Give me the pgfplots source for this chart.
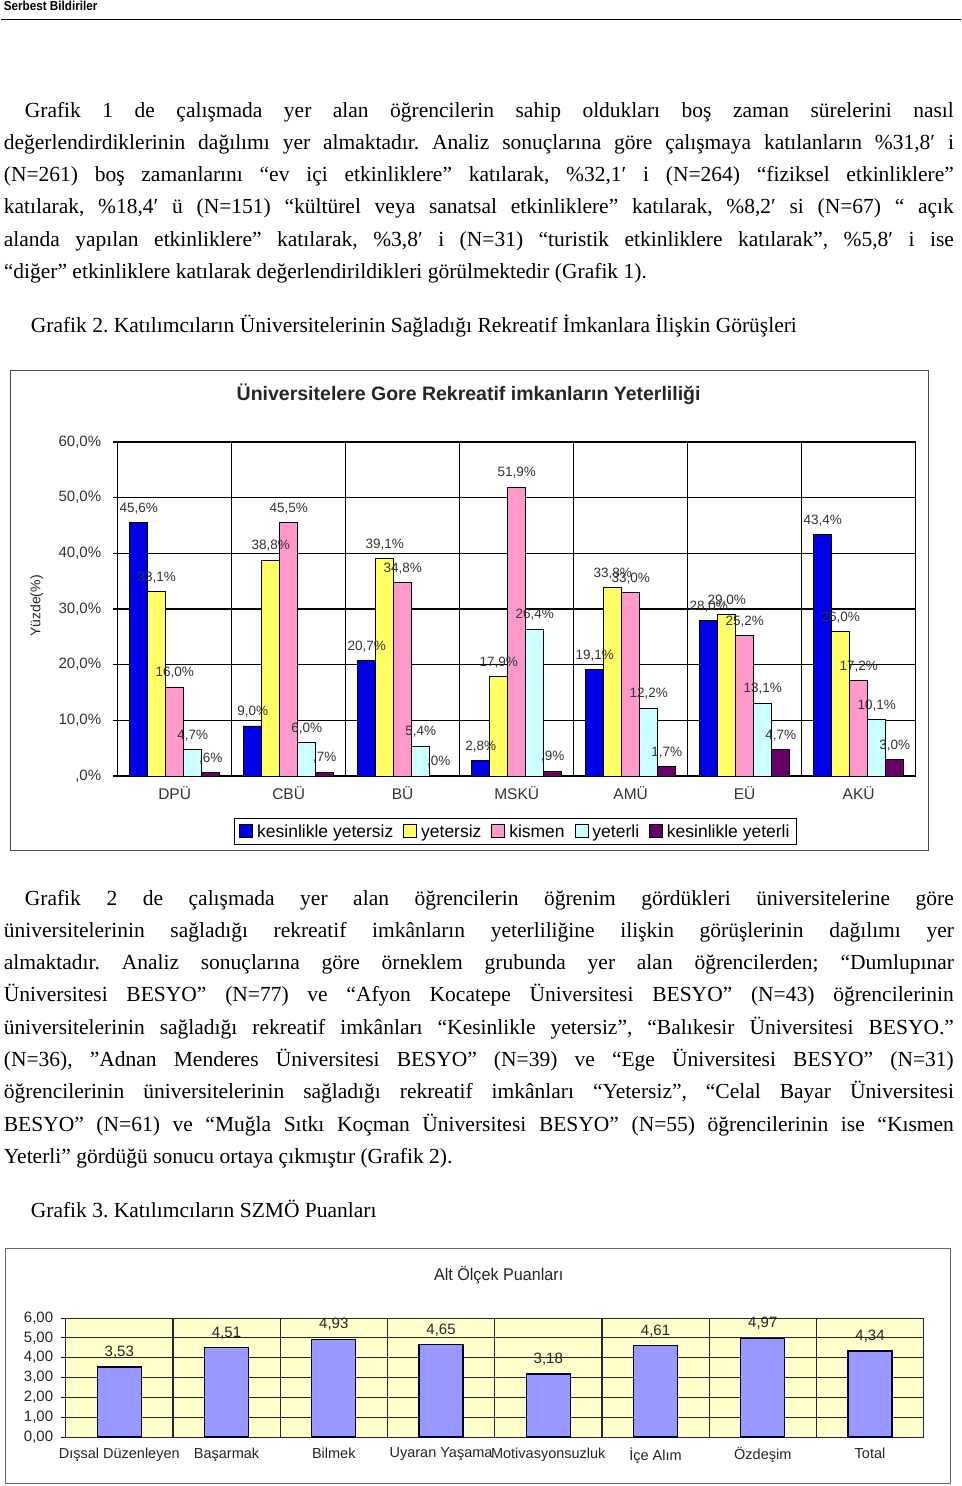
\documentclass[border=0pt]{standalone}
\usepackage{fontspec}
\setmainfont{Liberation Serif}
\newfontfamily\arial{Liberation Sans}
\usepackage{pgfplots}
\pgfplotsset{compat=1.18}
\definecolor{cA}{HTML}{0000E6}
\definecolor{cB}{HTML}{FFFF66}
\definecolor{cC}{HTML}{FF99CC}
\definecolor{cD}{HTML}{CCFFFF}
\definecolor{cE}{HTML}{660066}
\definecolor{bgY}{HTML}{FFFFCC}
\definecolor{barP}{HTML}{9999FF}
\newcommand{\body}{\fontsize{21.5}{32.3}\selectfont\frenchspacing}
\begin{document}
\begin{tikzpicture}[x=1pt,y=1pt]
\fill[white] (0,0) rectangle (960,-1486);
% header
\node[anchor=base west, inner sep=0, xscale=0.9, font=\arial\bfseries\fontsize{13}{13}\selectfont] at (3,-10.5) {Serbest Bildiriler};
\draw[line width=1.3pt] (0,-19.5) -- (960,-19.5);
% paragraph 1
\node[anchor=base west, inner sep=0] at (3,-117) {\parbox[t]{950pt}{\body\hspace*{21pt}Grafik 1 de çalışmada yer alan öğrencilerin sahip oldukları boş zaman sürelerini nasıl\linebreak
değerlendirdiklerinin dağılımı yer almaktadır. Analiz sonuçlarına göre çalışmaya katılanların \%31,8′ i\linebreak
(N=261) boş zamanlarını “ev içi etkinliklere” katılarak, \%32,1′ i (N=264) “fiziksel etkinliklere”\linebreak
katılarak, \%18,4′ ü (N=151) “kültürel veya sanatsal etkinliklere” katılarak, \%8,2′ si (N=67) “ açık\linebreak
alanda yapılan etkinliklere” katılarak, \%3,8′ i (N=31) “turistik etkinliklere katılarak”, \%5,8′ i ise\linebreak
“diğer” etkinliklere katılarak değerlendirildikleri görülmektedir (Grafik 1).}};
\node[anchor=base west, inner sep=0, font=\body] at (30,-332) {Grafik 2. Katılımcıların Üniversitelerinin Sağladığı Rekreatif İmkanlara İlişkin Görüşleri};
% chart 1 frame
\draw[black!70, line width=0.8pt] (10,-370) rectangle (928,-850);
\node[font=\arial\bfseries\fontsize{19.5}{19.5}\selectfont, text=black!85] at (468,-394) {Üniversitelere Gore Rekreatif imkanların Yeterliliği};
\node[rotate=90, font=\arial\fontsize{14}{14}\selectfont, text=black!85] at (36,-606) {Yüzde(\%)};
\begin{axis}[
  at={(117pt,-776pt)}, anchor=south west,
  scale only axis, width=798pt, height=334pt,
  xmin=-0.5, xmax=6.5, ymin=0, ymax=60,
  ybar=0pt, bar width=18pt,
  tick pos=left,
  axis line style={black, line width=1.2pt},
  xtick={0,...,6}, xticklabels={DPÜ,CBÜ,BÜ,MSKÜ,AMÜ,EÜ,AKÜ},
  x tick style={draw=none},
  extra x ticks={-0.5,0.5,1.5,2.5,3.5,4.5,5.5,6.5},
  extra x tick labels={},
  extra x tick style={grid=major, tick pos=left, tick align=outside, major tick length=7pt,
     tick style={draw=black, line width=1.2pt}, major grid style={black, line width=1.2pt}},
  ytick={0,10,...,60},
  yticklabels={{,0\%},{10,0\%},{20,0\%},{30,0\%},{40,0\%},{50,0\%},{60,0\%}},
  ymajorgrids, major grid style={black, line width=1.2pt},
  y tick style={black, line width=1.2pt}, tick align=outside, major tick length=5pt,
  yticklabel style={font=\arial\fontsize{15}{15}\selectfont, text=black!80, xshift=-8pt},
  xticklabel style={font=\arial\fontsize{15.5}{15.5}\selectfont, text=black!80, yshift=-2pt},
  point meta=explicit symbolic,
  nodes near coords={\pgfplotspointmeta\%},
  nodes near coords style={font=\arial\fontsize{13.5}{13.5}\selectfont, text=black!80, inner sep=0pt, anchor=south, yshift=8pt},
  legend columns=5,
  legend style={at={(axis description cs:0.4985,-0.126)}, anchor=north, draw=black, line width=1pt,
     font=\arial\fontsize{17.5}{17.5}\selectfont, inner ysep=4pt, inner xsep=5pt,
     /tikz/every odd column/.append style={column sep=2pt},
     /tikz/every even column/.append style={column sep=8pt}},
  legend image code/.code={\draw[#1,draw=black,line width=0.8pt] (0pt,-6pt) rectangle (13pt,7pt);},
]
\addplot[fill=cA, draw=black, line width=0.8pt] coordinates {(0,45.6)[45,6] (1,9.0)[9,0] (2,20.7)[20,7] (3,2.8)[2,8] (4,19.1)[19,1] (5,28.0)[28,0] (6,43.4)[43,4]};
\addplot[fill=cB, draw=black, line width=0.8pt] coordinates {(0,33.1)[33,1] (1,38.8)[38,8] (2,39.1)[39,1] (3,17.9)[17,9] (4,33.8)[33,8] (5,29.0)[29,0] (6,26.0)[26,0]};
\addplot[fill=cC, draw=black, line width=0.8pt] coordinates {(0,16.0)[16,0] (1,45.5)[45,5] (2,34.8)[34,8] (3,51.9)[51,9] (4,33.0)[33,0] (5,25.2)[25,2] (6,17.2)[17,2]};
\addplot[fill=cD, draw=black, line width=0.8pt] coordinates {(0,4.7)[4,7] (1,6.0)[6,0] (2,5.4)[5,4] (3,26.4)[26,4] (4,12.2)[12,2] (5,13.1)[13,1] (6,10.1)[10,1]};
\addplot[fill=cE, draw=black, line width=0.8pt] coordinates {(0,0.6)[,6] (1,0.7)[,7] (2,0.0)[,0] (3,0.9)[,9] (4,1.7)[1,7] (5,4.7)[4,7] (6,3.0)[3,0]};
\legend{kesinlikle yetersiz, yetersiz, kismen, yeterli, kesinlikle yeterli}
\end{axis}
% paragraph 2
\node[anchor=base west, inner sep=0] at (3,-905) {\parbox[t]{950pt}{\body\hspace*{21pt}Grafik 2 de çalışmada yer alan öğrencilerin öğrenim gördükleri üniversitelerine göre\linebreak
üniversitelerinin sağladığı rekreatif imkânların yeterliliğine ilişkin görüşlerinin dağılımı yer\linebreak
almaktadır. Analiz sonuçlarına göre örneklem grubunda yer alan öğrencilerden; “Dumlupınar\linebreak
Üniversitesi BESYO” (N=77) ve “Afyon Kocatepe Üniversitesi BESYO” (N=43) öğrencilerinin\linebreak
üniversitelerinin sağladığı rekreatif imkânları “Kesinlikle yetersiz”, “Balıkesir Üniversitesi BESYO.”\linebreak
(N=36), "Adnan Menderes Üniversitesi BESYO” (N=39) ve “Ege Üniversitesi BESYO” (N=31)\linebreak
öğrencilerinin üniversitelerinin sağladığı rekreatif imkânları “Yetersiz”, “Celal Bayar Üniversitesi\linebreak
BESYO” (N=61) ve “Muğla Sıtkı Koçman Üniversitesi BESYO” (N=55) öğrencilerinin ise “Kısmen\linebreak
Yeterli” gördüğü sonucu ortaya çıkmıştır (Grafik 2).}};
\node[anchor=base west, inner sep=0, font=\body] at (30,-1217) {Grafik 3. Katılımcıların SZMÖ Puanları};
% chart 2 frame
\draw[black!60, line width=0.8pt] (5,-1248) rectangle (950,-1483);
\node[font=\arial\fontsize{17}{17}\selectfont, text=black!85, xscale=0.95] at (498,-1275) {Alt Ölçek Puanları};
\begin{axis}[
  at={(65pt,-1437pt)}, anchor=south west,
  scale only axis, width=858pt, height=119pt,
  xmin=-0.5, xmax=7.5, ymin=0, ymax=6,
  ybar, bar width=44pt,
  tick pos=left,
  axis background/.style={fill=bgY},
  axis line style={black!85, line width=1pt},
  xtick={0,...,7}, xticklabels={Dışsal Düzenleyen,Başarmak,Bilmek,Uyaran Yaşama,Motivasyonsuzluk,İçe Alım,Özdeşim,Total},
  x tick style={draw=none},
  extra x ticks={-0.5,0.5,1.5,2.5,3.5,4.5,5.5,6.5,7.5},
  extra x tick labels={},
  extra x tick style={grid=major, tick pos=left, tick align=outside, major tick length=6pt,
     tick style={draw=black!85, line width=1.2pt}, major grid style={black!85, line width=1.2pt}},
  ytick={0,1,...,6},
  yticklabels={{0,00},{1,00},{2,00},{3,00},{4,00},{5,00},{6,00}},
  ymajorgrids, major grid style={black!85, line width=1pt},
  y tick style={black, line width=1pt}, tick align=outside, major tick length=5pt,
  yticklabel style={font=\arial\fontsize{15}{15}\selectfont, text=black!85, xshift=-4pt},
  xticklabel style={font=\arial\fontsize{14.5}{14.5}\selectfont, text=black!85, yshift=-2pt},
  point meta=explicit symbolic,
  nodes near coords={\pgfplotspointmeta},
  nodes near coords style={font=\arial\fontsize{15}{15}\selectfont, text=black!85, inner sep=0pt, anchor=south, yshift=8pt},
]
\addplot[fill=barP, draw=black!85!blue, line width=1.2pt] coordinates {(0,3.53)[3,53] (1,4.51)[4,51] (2,4.93)[4,93] (3,4.65)[4,65] (4,3.18)[3,18] (5,4.61)[4,61] (6,4.97)[4,97] (7,4.34)[4,34]};
\end{axis}
\end{tikzpicture}
\end{document}
